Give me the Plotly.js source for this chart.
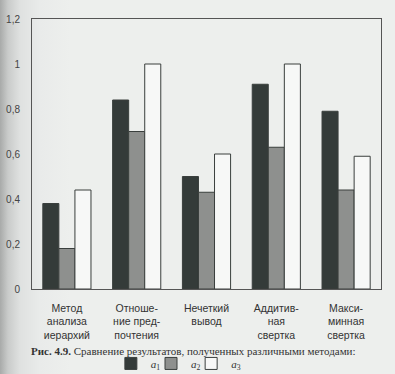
<!DOCTYPE html>
<html>
<head>
<meta charset="utf-8">
<script src="https://cdn.plot.ly/plotly-3.0.1.min.js"></script>
<style>
html,body{margin:0;padding:0;}
body{background:linear-gradient(to right,#a8aaa9 0px,#c9cbca 8px,#dfe1e0 20px,#e9ebea 40px,#edefed 70px);}
</style>
</head>
<body>
<div id="chart" style="width:395px;height:374px;"></div>
<script>
const categories = [
  "Метод<br>анализа<br>иерархий",
  "Отноше-<br>ние пред-<br>почтения",
  "Нечеткий<br>вывод",
  "Аддитив-<br>ная<br>свертка",
  "Макси-<br>минная<br>свертка"
];
const seriesNames = ["<i>a</i><sub>1</sub>", "<i>a</i><sub>2</sub>", "<i>a</i><sub>3</sub>"];
const a1 = [0.38, 0.84, 0.50, 0.91, 0.79];
const a2 = [0.18, 0.70, 0.43, 0.63, 0.44];
const a3 = [0.44, 1.00, 0.60, 1.00, 0.59];
const yTicks = [0, 0.2, 0.4, 0.6, 0.8, 1, 1.2];
const caption = "<b>Рис. 4.9.</b> Сравнение результатов, полученных различными методами:";

const colors = ["#343b39", "#8e908e", "#f7f8f7"];
const values = [a1, a2, a3];
const legendIds = ["legend", "legend2", "legend3"];
const legendX = [0.226, 0.341, 0.456];
const traces = values.map((v, i) => ({
  type: "bar",
  x: categories,
  y: v,
  name: seriesNames[i],
  legend: legendIds[i],
  marker: {color: colors[i], line: {color: "#3a3f3d", width: 1}}
}));

const legendBase = {
  orientation: "h", xanchor: "left", y: -0.222, yanchor: "top",
  bgcolor: "rgba(0,0,0,0)",
  font: {family: "Liberation Serif, Times New Roman, serif", size: 11, color: "#333"},
  itemwidth: 30
};

const layout = {
  width: 395, height: 374,
  margin: {l: 32, r: 14, t: 19, b: 85, autoexpand: false},
  paper_bgcolor: "rgba(0,0,0,0)",
  plot_bgcolor: "rgba(0,0,0,0)",
  barmode: "group",
  bargap: 0.31,
  bargroupgap: 0,
  separators: ", ",
  font: {family: "Liberation Sans, Arial, sans-serif", size: 10, color: "#333"},
  xaxis: {
    automargin: false,
    showline: true, mirror: true, linecolor: "#555", linewidth: 1,
    ticks: "outside", ticklen: 9, tickcolor: "rgba(0,0,0,0)",
    tickfont: {size: 10.5, color: "#333"},
    tickangle: 0, showgrid: false, zeroline: false
  },
  yaxis: {
    automargin: false,
    range: [0, 1.2], tickvals: yTicks,
    showline: true, mirror: true, linecolor: "#555", linewidth: 1,
    ticks: "outside", ticklen: 9, tickcolor: "rgba(0,0,0,0)",
    tickfont: {size: 10, color: "#444"},
    showgrid: false, zeroline: false
  },
  showlegend: true,
  legend: Object.assign({}, legendBase, {x: legendX[0]}),
  legend2: Object.assign({}, legendBase, {x: legendX[1]}),
  legend3: Object.assign({}, legendBase, {x: legendX[2]}),
  annotations: [{
    xref: "paper", yref: "paper", x: 0.464, y: -0.23, xanchor: "center", yanchor: "middle",
    text: caption, showarrow: false,
    font: {family: "Liberation Serif, Times New Roman, serif", size: 11, color: "#333"}
  }]
};

Plotly.newPlot("chart", traces, layout, {displayModeBar: false, staticPlot: true});
</script>
</body>
</html>
